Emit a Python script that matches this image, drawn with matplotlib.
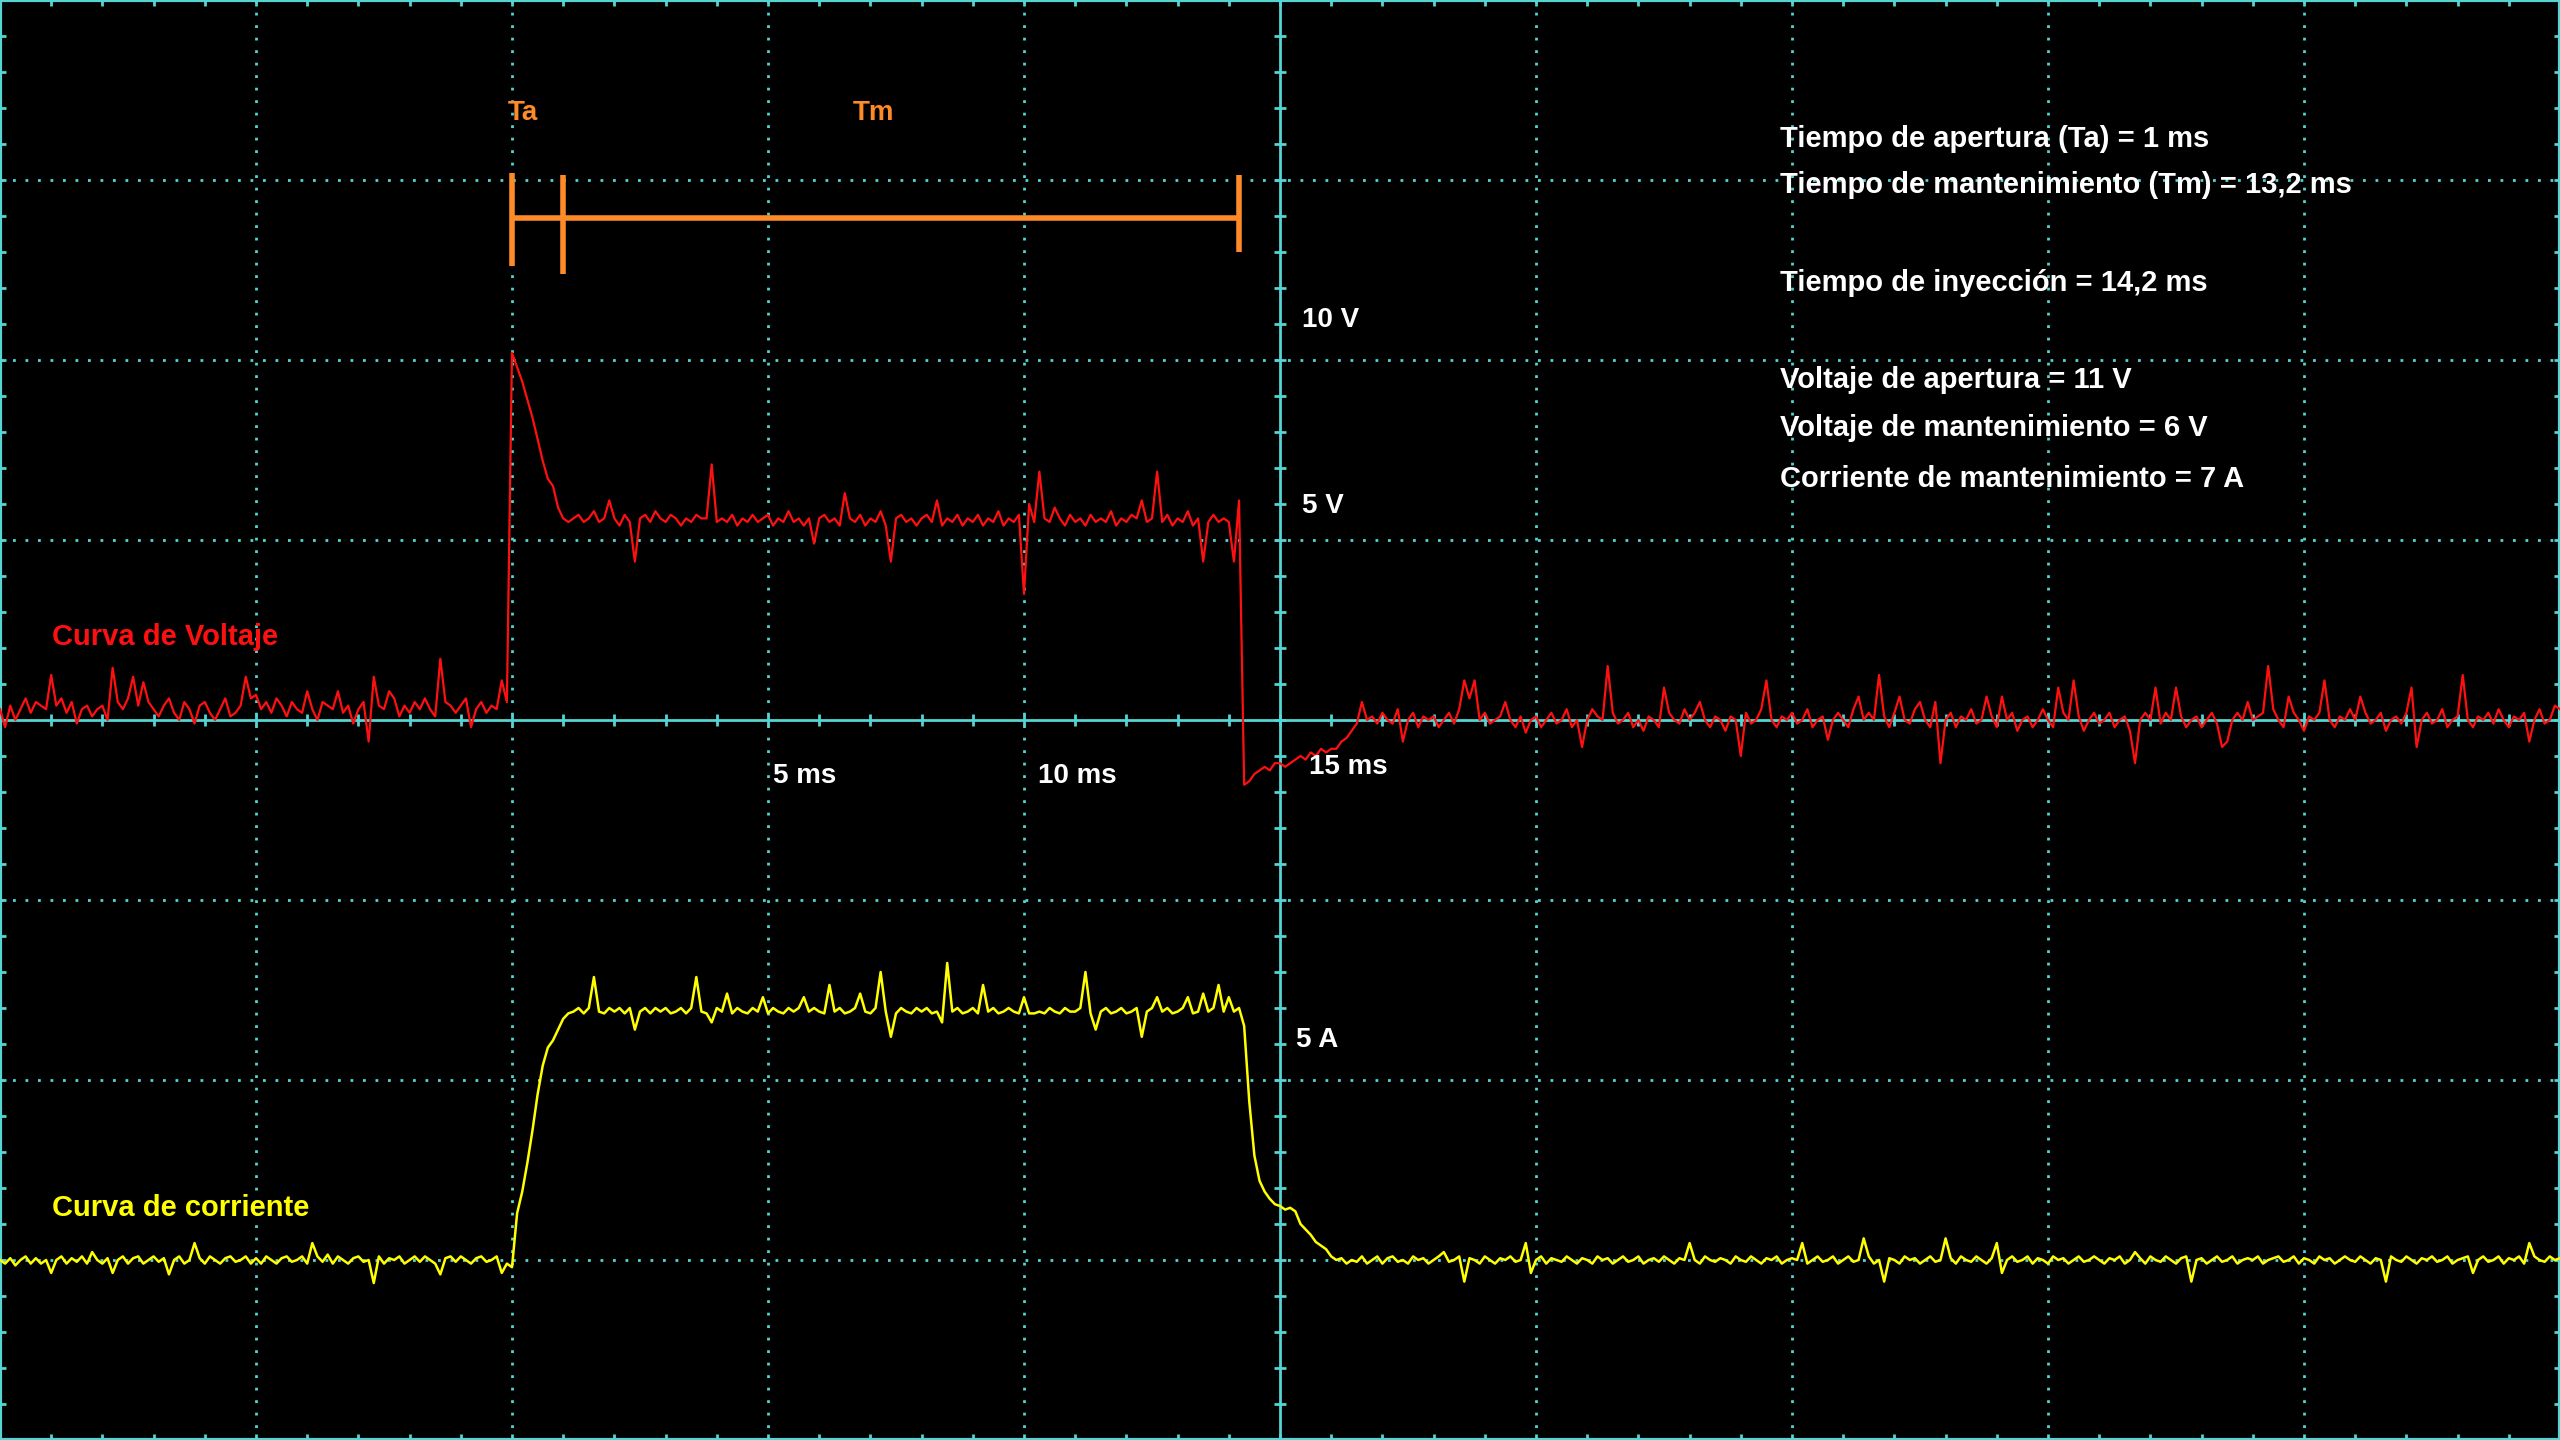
import numpy as np
import matplotlib
matplotlib.use("Agg")
import matplotlib.pyplot as plt

plt.rcParams['font.family'] = ['Liberation Sans', 'DejaVu Sans']

# scope settings: 5 ms/div, 5 V/div (zero at centre), 5 A/div (zero one div above bottom)
ms_per_div = 5.0
volt_per_div = 5.0
amp_per_div = 5.0
volt_zero_div = 4.0
amp_zero_div = 1.0

# sample clock of the scope, 0.1 ms per sample from -10 ms to 40 ms
t_ms = np.linspace(-10.0, 40.0, 501)

# voltage trace (V), one row = 1 ms
voltage = [
    0.3, -0.2, 0.4, 0.0, 0.3, 0.6, 0.2, 0.5, 0.4, 0.3,
    1.25, 0.4, 0.6, 0.2, 0.5, -0.1, 0.3, 0.4, 0.1, 0.3,
    0.4, 0.0, 1.45, 0.5, 0.3, 0.6, 1.2, 0.4, 1.05, 0.5,
    0.3, 0.1, 0.4, 0.6, 0.2, 0.0, 0.5, 0.3, -0.1, 0.4,
    0.5, 0.2, 0.0, 0.3, 0.6, 0.1, 0.2, 0.4, 1.2, 0.6,
    0.7, 0.3, 0.5, 0.2, 0.6, 0.4, 0.1, 0.5, 0.3, 0.2,
    0.8, 0.3, 0.0, 0.5, 0.4, 0.3, 0.8, 0.2, 0.4, -0.1,
    0.3, 0.5, -0.6, 1.2, 0.4, 0.3, 0.8, 0.6, 0.1, 0.4,
    0.2, 0.5, 0.3, 0.6, 0.3, 0.1, 1.7, 0.5, 0.4, 0.2,
    0.4, 0.6, -0.2, 0.3, 0.5, 0.2, 0.4, 0.3, 1.1, 0.5,
    10.2, 9.8, 9.4, 8.9, 8.4, 7.8, 7.2, 6.7, 6.5, 5.9,
    5.6, 5.5, 5.6, 5.7, 5.5, 5.6, 5.8, 5.5, 5.6, 6.1,
    5.6, 5.4, 5.7, 5.5, 4.4, 5.6, 5.7, 5.5, 5.8, 5.6,
    5.5, 5.7, 5.6, 5.4, 5.6, 5.5, 5.7, 5.6, 5.6, 7.1,
    5.5, 5.6, 5.5, 5.7, 5.4, 5.6, 5.5, 5.7, 5.5, 5.6,
    5.7, 5.4, 5.6, 5.5, 5.8, 5.5, 5.6, 5.4, 5.6, 4.9,
    5.6, 5.7, 5.5, 5.6, 5.4, 6.3, 5.6, 5.5, 5.7, 5.4,
    5.6, 5.5, 5.8, 5.4, 4.4, 5.6, 5.7, 5.5, 5.6, 5.4,
    5.6, 5.7, 5.5, 6.1, 5.4, 5.6, 5.5, 5.7, 5.4, 5.6,
    5.5, 5.7, 5.4, 5.6, 5.5, 5.8, 5.4, 5.6, 5.5, 5.7,
    3.5, 6.0, 5.5, 6.9, 5.6, 5.5, 5.9, 5.6, 5.4, 5.7,
    5.5, 5.6, 5.4, 5.7, 5.5, 5.6, 5.5, 5.8, 5.4, 5.6,
    5.5, 5.7, 5.6, 6.1, 5.5, 5.6, 6.9, 5.5, 5.7, 5.4,
    5.6, 5.5, 5.8, 5.4, 5.6, 4.4, 5.5, 5.7, 5.5, 5.6,
    5.5, 4.4, 6.1, -1.8, -1.7, -1.5, -1.4, -1.3, -1.4, -1.2,
    -1.2, -1.3, -1.2, -1.1, -1.0, -1.1, -0.9, -1.0, -0.8, -0.9,
    -0.8, -0.8, -0.6, -0.5, -0.3, -0.1, 0.5, 0.0, 0.1, -0.1,
    0.2, 0.0, -0.1, 0.3, -0.6, 0.0, 0.2, -0.2, 0.1, 0.0,
    0.1, -0.2, 0.0, 0.2, -0.1, 0.3, 1.1, 0.6, 1.1, 0.0,
    0.2, -0.1, 0.0, 0.1, 0.5, 0.0, -0.2, 0.1, -0.35, 0.0,
    0.1, -0.2, 0.0, 0.2, -0.1, 0.0, 0.3, -0.2, 0.0, -0.75,
    0.0, 0.3, 0.1, 0.0, 1.5, 0.2, -0.1, 0.0, 0.2, -0.2,
    0.0, -0.3, 0.1, 0.0, -0.2, 0.9, 0.2, 0.0, -0.1, 0.3,
    0.0, 0.2, 0.5, 0.0, -0.2, 0.1, 0.0, -0.3, 0.1, 0.0,
    -1.0, 0.2, -0.1, 0.0, 0.3, 1.1, 0.0, -0.2, 0.1, 0.0,
    0.2, -0.1, 0.0, 0.3, -0.2, 0.0, 0.1, -0.55, 0.0, 0.2,
    0.0, -0.2, 0.3, 0.65, 0.0, 0.2, 0.0, 1.25, 0.1, -0.2,
    0.2, 0.65, 0.0, -0.1, 0.3, 0.5, 0.0, -0.2, 0.5, -1.2,
    0.0, 0.2, -0.2, 0.1, 0.0, 0.3, -0.1, 0.0, 0.65, 0.1,
    -0.2, 0.65, 0.0, 0.2, -0.3, 0.0, 0.1, -0.2, 0.0, 0.3,
    0.0, -0.2, 0.9, 0.2, 0.0, 1.1, 0.1, -0.3, 0.0, 0.2,
    -0.1, 0.0, 0.2, -0.2, 0.0, 0.1, -0.3, -1.2, 0.0, 0.2,
    0.0, 0.9, -0.1, 0.2, 0.0, 0.9, 0.1, -0.2, 0.0, 0.1,
    -0.2, 0.0, 0.2, -0.1, -0.75, -0.6, 0.0, 0.2, 0.0, 0.5,
    0.0, 0.1, 0.2, 1.5, 0.3, 0.0, -0.2, 0.65, 0.2, 0.0,
    -0.3, 0.1, 0.0, 0.2, 1.1, 0.0, -0.2, 0.1, 0.0, 0.3,
    0.0, 0.65, 0.2, -0.1, 0.0, 0.2, -0.3, 0.0, 0.1, -0.1,
    0.2, 0.9, -0.75, 0.0, 0.2, -0.1, 0.0, 0.3, -0.2, 0.0,
    0.1, 1.25, 0.0, -0.2, 0.1, 0.0, 0.2, -0.1, 0.3, 0.0,
    -0.2, 0.1, 0.0, 0.2, -0.6, 0.0, 0.3, -0.1, 0.0, 0.4,
    0.3,
]

# current trace (A), one row = 1 ms
current = [
    0.0, -0.1, 0.05, -0.15, 0.0, 0.1, -0.1, 0.05, -0.1, 0.0,
    -0.36, 0.0, 0.1, -0.1, 0.05, -0.05, 0.1, -0.1, 0.22, 0.0,
    -0.1, 0.05, -0.36, 0.0, 0.1, -0.1, 0.05, 0.1, -0.1, 0.0,
    0.1, -0.05, 0.05, -0.4, 0.0, 0.1, -0.1, 0.0, 0.47, 0.05,
    -0.1, 0.1, 0.0, -0.1, 0.05, 0.1, -0.05, 0.0, 0.1, -0.1,
    0.05, -0.1, 0.1, 0.0, -0.1, 0.05, 0.1, -0.05, 0.0, 0.1,
    -0.1, 0.47, 0.1, -0.05, 0.15, -0.1, 0.1, 0.0, -0.1, 0.05,
    0.1, -0.05, 0.0, -0.64, 0.1, -0.1, 0.05, 0.0, 0.1, -0.1,
    0.0, 0.1, -0.05, 0.1, 0.0, -0.1, -0.4, 0.05, 0.1, -0.05,
    0.1, 0.0, -0.1, 0.05, 0.1, -0.05, 0.0, 0.1, -0.36, -0.1,
    -0.2, 1.3, 1.9, 2.7, 3.6, 4.6, 5.4, 5.9, 6.1, 6.4,
    6.7, 6.85, 6.9, 7.0, 6.85, 7.0, 7.86, 6.9, 6.85, 7.0,
    6.9, 7.0, 6.85, 7.0, 6.4, 6.9, 7.0, 6.85, 7.0, 6.9,
    7.0, 6.85, 6.9, 7.0, 6.85, 7.0, 7.86, 6.9, 6.85, 6.6,
    7.0, 6.9, 7.4, 6.85, 7.0, 6.9, 6.85, 7.0, 6.9, 7.3,
    6.85, 7.0, 6.9, 6.85, 7.0, 6.9, 7.0, 7.3, 6.9, 7.0,
    6.9, 6.85, 7.64, 6.9, 7.0, 6.85, 6.9, 7.0, 7.4, 6.9,
    6.85, 7.0, 8.0, 6.9, 6.2, 6.85, 7.0, 6.9, 6.85, 7.0,
    6.9, 7.0, 6.85, 6.9, 6.6, 8.25, 6.9, 7.0, 6.85, 6.9,
    7.0, 6.85, 7.64, 6.9, 7.0, 6.85, 6.9, 7.0, 6.9, 6.85,
    7.3, 6.85, 6.85, 6.9, 6.85, 7.0, 6.9, 6.85, 7.0, 6.9,
    6.9, 7.0, 8.0, 6.85, 6.4, 6.9, 7.0, 6.85, 6.9, 7.0,
    6.85, 6.9, 7.0, 6.2, 6.9, 7.0, 7.3, 6.9, 7.0, 6.85,
    6.9, 7.0, 7.3, 6.85, 6.9, 7.4, 6.9, 7.0, 7.64, 6.9,
    7.3, 6.9, 7.0, 6.5, 4.4, 2.9, 2.2, 1.9, 1.7, 1.55,
    1.5, 1.4, 1.45, 1.35, 1.0, 0.85, 0.7, 0.5, 0.4, 0.3,
    0.1, 0.0, 0.05, -0.1, 0.0, -0.05, 0.1, -0.1, 0.0, 0.1,
    -0.1, 0.05, 0.1, -0.05, 0.0, -0.1, 0.1, 0.0, 0.05, -0.1,
    0.0, 0.1, 0.22, -0.05, 0.0, 0.1, -0.6, 0.05, 0.0, -0.1,
    0.1, 0.0, -0.1, 0.05, 0.0, 0.1, -0.05, 0.0, 0.47, -0.36,
    0.0, 0.1, -0.1, 0.05, 0.0, -0.05, 0.1, 0.0, -0.1, 0.05,
    0.0, -0.1, 0.1, 0.0, 0.05, -0.1, 0.0, 0.1, -0.05, 0.0,
    0.1, -0.1, 0.0, 0.05, -0.05, 0.1, 0.0, -0.1, 0.05, 0.0,
    0.47, 0.0, -0.1, 0.1, 0.0, -0.05, 0.05, 0.0, -0.1, 0.1,
    0.0, -0.05, 0.1, 0.0, -0.1, 0.05, 0.0, 0.1, -0.1, 0.0,
    0.05, 0.0, 0.47, -0.1, 0.0, 0.1, -0.05, 0.0, 0.1, -0.1,
    0.0, 0.1, -0.05, 0.0, 0.6, 0.1, -0.1, 0.0, -0.6, 0.05,
    0.0, -0.1, 0.1, 0.0, 0.05, -0.1, 0.0, 0.1, -0.05, 0.0,
    0.6, 0.05, -0.1, 0.1, 0.0, -0.05, 0.1, 0.0, -0.1, 0.05,
    0.47, -0.36, 0.0, 0.1, -0.05, 0.0, 0.1, -0.1, 0.05, 0.0,
    -0.1, 0.1, 0.0, 0.05, -0.1, 0.0, 0.1, -0.05, 0.0, 0.1,
    0.0, -0.1, 0.05, 0.0, 0.1, -0.1, 0.0, 0.22, 0.05, -0.1,
    0.1, 0.0, -0.05, 0.1, 0.0, -0.1, 0.05, 0.1, -0.6, 0.0,
    0.05, -0.1, 0.0, 0.1, -0.05, 0.0, 0.1, -0.1, 0.0, 0.05,
    0.0, 0.1, -0.1, 0.0, 0.05, 0.1, -0.05, 0.0, 0.1, -0.1,
    0.05, 0.0, -0.1, 0.1, 0.0, 0.05, -0.1, 0.0, 0.1, 0.0,
    -0.05, 0.1, 0.0, -0.1, 0.05, 0.0, -0.6, 0.1, 0.0, -0.05,
    0.1, 0.0, -0.1, 0.05, 0.0, 0.1, -0.05, 0.0, 0.1, -0.1,
    0.0, 0.05, 0.1, -0.36, 0.0, 0.1, -0.05, 0.0, 0.1, -0.1,
    0.05, 0.0, 0.1, -0.1, 0.47, 0.1, 0.0, -0.05, 0.1, 0.0,
    0.05,
]

ta_ms = 1.0
tm_ms = 13.2

info_lines = [
    "Tiempo de apertura (Ta) = 1 ms",
    "Tiempo de mantenimiento (Tm) = 13,2 ms",
    "",
    "Tiempo de inyección = 14,2 ms",
    "",
    "Voltaje de apertura = 11 V",
    "Voltaje de mantenimiento = 6 V",
    "Corriente de mantenimiento = 7 A",
]

time_labels = ["5 ms", "10 ms", "15 ms"]
volt_labels = ["10 V", "5 V"]
amp_labels = ["5 A"]

cyan = "#55d4d4"
red = "#ff1010"
yellow = "#ffff00"
orange = "#ff8a28"

fig = plt.figure(figsize=(25.6, 14.4), dpi=100, facecolor="black")
ax = fig.add_axes([0, 0, 1, 1])
ax.set_facecolor("black")
t0, t1 = -10.0, 40.0
ax.set_xlim(t0, t1)
ax.set_ylim(0, 8)
ax.set_xticks([])
ax.set_yticks([])
for s in ax.spines.values():
    s.set_color(cyan)
    s.set_linewidth(3)

# graticule
xdiv = np.arange(t0, t1 + 0.01, ms_per_div)
tc = (t0 + t1) / 2
for x in xdiv[1:-1]:
    if abs(x - tc) > 1e-6:
        ax.axvline(x, color=cyan, lw=2, ls=(0, (1, 3.5)), zorder=1)
for y in range(1, 8):
    if y != 4:
        ax.axhline(y, color=cyan, lw=2, ls=(0, (1, 3.5)), zorder=1)
ax.axvline(tc, color=cyan, lw=2, zorder=1)
ax.axhline(4, color=cyan, lw=2, zorder=1)

# minor ticks (5 per division) on centre lines and frame
xt = np.arange(t0, t1 + 0.01, ms_per_div / 5)
yt = np.arange(0, 8.01, 0.2)
hx = 0.035
hy = 0.12
ax.vlines(xt, 4 - hx, 4 + hx, color=cyan, lw=2, zorder=1)
ax.hlines(yt, tc - hy, tc + hy, color=cyan, lw=2, zorder=1)
ax.vlines(xt, 8 - hx, 8, color=cyan, lw=2, zorder=1)
ax.vlines(xt, 0, hx, color=cyan, lw=2, zorder=1)
ax.hlines(yt, t0, t0 + hy, color=cyan, lw=2, zorder=1)
ax.hlines(yt, t1 - hy, t1, color=cyan, lw=2, zorder=1)

# traces
v_div = volt_zero_div + np.array(voltage) / volt_per_div
i_div = amp_zero_div + np.array(current) / amp_per_div
ax.plot(t_ms, v_div, color=red, lw=1.6, zorder=3)
ax.plot(t_ms, i_div, color=yellow, lw=1.8, zorder=3)

# Ta / Tm bracket
t_end = ta_ms + tm_ms
ax.plot([0, t_end], [6.79, 6.79], color=orange, lw=4, solid_capstyle="butt", zorder=4)
ax.plot([0, 0], [6.52, 7.04], color=orange, lw=4, solid_capstyle="butt", zorder=4)
ax.plot([ta_ms, ta_ms], [6.48, 7.03], color=orange, lw=4, solid_capstyle="butt", zorder=4)
ax.plot([t_end, t_end], [6.60, 7.03], color=orange, lw=4, solid_capstyle="butt", zorder=4)
ax.text(-0.08, 7.37, "Ta", color=orange, fontsize=20, fontweight="bold", ha="left", va="center")
ax.text(7.07, 7.37, "Tm", color=orange, fontsize=20, fontweight="bold", ha="center", va="center")

# trace names
ax.text(-8.98, 4.46, "Curva de Voltaje", color=red, fontsize=21, fontweight="bold",
        ha="left", va="center")
ax.text(-8.98, 1.29, "Curva de corriente", color=yellow, fontsize=21, fontweight="bold",
        ha="left", va="center")

# scale labels
for lab, x, y in zip(time_labels, [5.1, 10.28, 15.57], [3.69, 3.69, 3.74]):
    ax.text(x, y, lab, color="white", fontsize=20, fontweight="bold", ha="left", va="center")
for lab, y in zip(volt_labels, [6.22, 5.19]):
    ax.text(15.42, y, lab, color="white", fontsize=20, fontweight="bold", ha="left", va="center")
for lab, y in zip(amp_labels, [2.22]):
    ax.text(15.32, y, lab, color="white", fontsize=20, fontweight="bold", ha="left", va="center")

# measurement summary
ys = [7.23, 6.97, 6.70, 6.43, 6.16, 5.89, 5.62, 5.34]
for line, y in zip(info_lines, ys):
    if line:
        ax.text(24.77, y, line, color="white", fontsize=21, fontweight="bold",
                ha="left", va="center")

fig.savefig("out.png", dpi=100, facecolor="black")
